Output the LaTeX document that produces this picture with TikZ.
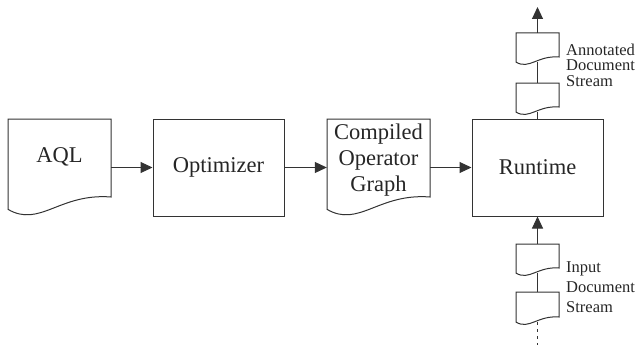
\documentclass[tikz,border=0pt]{standalone}
\usepackage{fontspec}
\setmainfont{Liberation Serif}
\usetikzlibrary{arrows.meta}
\tikzset{
 ln/.style={line width=1pt, draw=black!80},
 conn/.style={ln, -{Triangle[length=12pt,width=11pt]}},
 plainbox/.style={ln, rectangle, inner sep=0pt},
 ghost/.style={rectangle, inner sep=0pt, draw=none},
 big/.style={font=\fontsize{22.5}{26}\selectfont, text=black!85},
 small/.style={font=\fontsize{16.5}{15.5}\selectfont, align=left, anchor=west, inner sep=0pt, text=black!85},
 docline/.style={ln, fill=white, line join=miter},
}
\newcommand{\mydoc}[4]{%
 \pgfmathsetmacro{\dw}{#2-#1}%
 \filldraw[docline] (#1,#3) -- (#2,#3) -- (#2,#4) .. controls ({#2-0.5*\dw},{#4-0.04*\dw}) and ({#1+0.31*\dw},{#4+0.3*\dw}) .. (#1,{#4+0.12*\dw}) -- cycle;}
\begin{document}
\begin{tikzpicture}[x=1pt,y=-1pt]
\useasboundingbox (0,0) rectangle (642,345);
% AQL document
\mydoc{8}{111}{119}{197}
\node[ghost, minimum width=103pt, minimum height=97pt] (aql) at (59.5,167.5) {};
\node[big] (aqltxt) at (59.5,157) {AQL};
% Optimizer
\node[plainbox, big, minimum width=131pt, minimum height=97pt] (opt) at (218.5,167.5) {Optimizer};
% Compiled operator graph
\mydoc{327}{430}{119}{197}
\node[ghost, minimum width=103pt, minimum height=97pt] (comp) at (378.5,167.5) {};
\node[big, align=center, inner sep=0pt] (comptxt) at (378.5,160) {Compiled\\Operator\\Graph};
% Runtime
\node[plainbox, big, minimum width=131pt, minimum height=97pt] (rt) at (537.5,167.5) {Runtime};
% main connectors
\draw[conn] (aql.east) -- (opt.west);
\draw[conn] (opt.east) -- (comp.west);
\draw[conn] (comp.east) -- (rt.west);
% small documents
\mydoc{516}{559}{33}{57}
\node[ghost, minimum width=43pt, minimum height=29pt] (ad1) at (537.5,47.5) {};
\mydoc{516}{559}{83}{107}
\node[ghost, minimum width=43pt, minimum height=29pt] (ad2) at (537.5,97.5) {};
\mydoc{516}{559}{244}{268}
\node[ghost, minimum width=43pt, minimum height=29pt] (id1) at (537.5,258.5) {};
\mydoc{516}{559}{292}{317}
\node[ghost, minimum width=43pt, minimum height=30pt] (id2) at (537.5,307) {};
% stream connectors
\coordinate (toptip) at (537.5,7);
\coordinate (inend) at (537.5,345);
\draw[conn] (ad1.north) -- (toptip);
\draw[ln] (ad2.north) -- (ad1.south);
\draw[ln] (rt.north) -- (ad2.south);
\draw[conn] (id1.north) -- (rt.south);
\draw[ln] (id2.north) -- (id1.south);
\draw[ln, dash pattern=on 3pt off 4pt] (id2.south) -- (inend);
% labels
\node[small] (adlbl) at (566,65) {Annotated\\Document\\Stream};
\node[small, font=\fontsize{16.5}{20}\selectfont] (inlbl) at (566,287) {Input\\Document\\Stream};
\end{tikzpicture}
\end{document}
